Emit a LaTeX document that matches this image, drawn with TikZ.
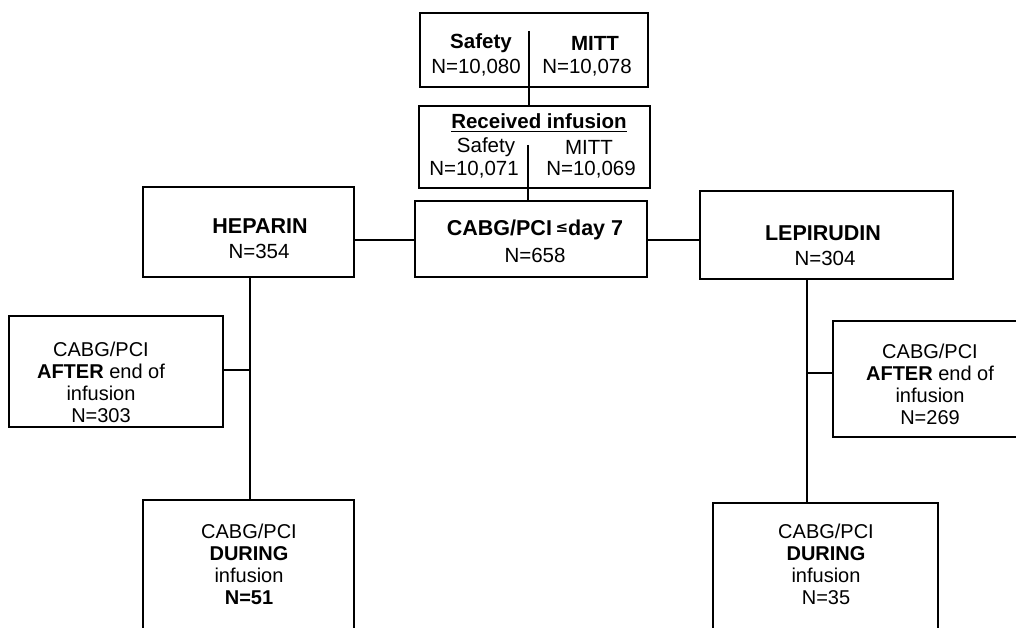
\documentclass[tikz,border=0pt]{standalone}
\usepackage{fontspec}
\setmainfont{Liberation Sans}
\newfontfamily\symfont{DejaVu Sans}
\begin{document}
\begin{tikzpicture}[x=1pt,y=-1pt,
  box/.style={draw, line width=1.3pt, inner sep=0pt, minimum width=#1},
  txt/.style={inner sep=0pt, font=\fontsize{20.5}{23}\selectfont},
  btxt/.style={inner sep=0pt, font=\fontsize{20.5}{23}\selectfont\bfseries},
  hdr/.style={inner sep=0pt, font=\fontsize{21.5}{24}\selectfont\bfseries},
  blk/.style={inner sep=0pt, align=center, font=\fontsize{20}{22}\selectfont},
  conn/.style={line width=1.3pt}]
\clip (0,0) rectangle (1016,628);
\fill[white] (0,0) rectangle (1016,628);

% boxes
\node[box=228pt, minimum height=74pt] (top) at (534,50) {};
\node[box=231pt, minimum height=82pt] (rcv) at (534.5,147) {};
\node[box=232pt, minimum height=76pt] (cabg) at (531,239) {};
\node[box=211pt, minimum height=90pt] (hep) at (248.5,232) {};
\node[box=253pt, minimum height=88pt] (lep) at (826.5,235) {};
\node[box=214pt, minimum height=111pt] (aftL) at (116,371.5) {};
\node[box=207pt, minimum height=116pt] (aftR) at (936.5,379) {};
\node[box=211pt, minimum height=160pt] (durL) at (248.5,580) {};
\node[box=225pt, minimum height=157pt] (durR) at (825.5,581.5) {};

% texts
\node[btxt] (s1) at (481,43) {Safety};
\node[txt] (n1) at (476,68) {N=10,080};
\node[btxt] (m1) at (595,43) {MITT};
\node[txt] (n2) at (587,68) {N=10,078};

\node[btxt] (ri) at (539,121) {Received infusion};
\node[txt] (s2) at (486,147) {Safety};
\node[txt] (n3) at (474,170) {N=10,071};
\node[txt] (m2) at (589,147) {MITT};
\node[txt] (n4) at (591,170) {N=10,069};

\node[hdr] (ct) at (535,230) {CABG/PCI\,{\symfont\fontsize{15}{15}\selectfont\raisebox{3pt}{≤}}day 7};
\node[txt] (cn) at (535,255) {N=658};
\node[hdr] (ht) at (260,226) {HEPARIN};
\node[txt] (hn) at (259,251) {N=354};
\node[hdr] (lt) at (823,233) {LEPIRUDIN};
\node[txt] (ln) at (825,258) {N=304};

\node[blk] (aLt) at (101,382) {CABG/PCI\\\textbf{AFTER} end of\\infusion\\N=303};
\node[blk] (aRt) at (930,384) {CABG/PCI\\\textbf{AFTER} end of\\infusion\\N=269};
\node[blk] (dLt) at (249,564) {CABG/PCI\\\textbf{DURING}\\infusion\\\textbf{N=51}};
\node[blk] (dRt) at (826,564) {CABG/PCI\\\textbf{DURING}\\infusion\\N=35};

% underline
\draw[line width=1.3pt] ([yshift=-3pt]ri.base west) -- ([yshift=-3pt]ri.base east);

% connectors
\coordinate (topdiv) at (529,31);
\coordinate (rcvdiv) at (528,145);
\draw[conn] (topdiv) -- (topdiv |- rcv.north);
\draw[conn] (rcvdiv) -- (rcvdiv |- cabg.north);

\coordinate (hl) at (0,240);
\draw[conn] (hep.east |- hl) -- (cabg.west |- hl);
\draw[conn] (cabg.east |- hl) -- (lep.west |- hl);

\coordinate (lv) at (250,0);
\coordinate (lb) at (250,370);
\draw[conn] (hep.south -| lv) -- (durL.north -| lv);
\draw[conn] (lb) -- (aftL.east |- lb);

\coordinate (rv) at (807,0);
\coordinate (rb) at (807,373);
\draw[conn] (lep.south -| rv) -- (durR.north -| rv);
\draw[conn] (rb) -- (aftR.west |- rb);
\end{tikzpicture}
\end{document}
